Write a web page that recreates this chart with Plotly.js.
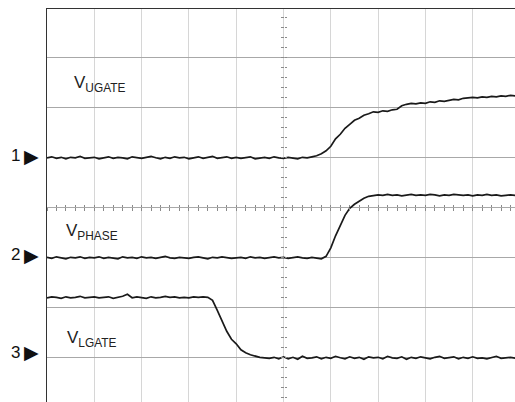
<!DOCTYPE html>
<html>
<head>
<meta charset="utf-8">
<script src="https://cdn.plot.ly/plotly-3.0.1.min.js"></script>
<style>html,body{margin:0;padding:0;background:#fff;}#plot{width:515px;height:402px;}</style>
</head>
<body>
<div id="plot"></div>
<script>
// time axis in horizontal divisions (screen centre = 0)
const time = [
 -5.0,-4.9,-4.8,-4.7,-4.6,-4.5,-4.4,-4.3,-4.2,-4.1,
 -4.0,-3.9,-3.8,-3.7,-3.6,-3.5,-3.4,-3.3,-3.2,-3.1,
 -3.0,-2.9,-2.8,-2.7,-2.6,-2.5,-2.4,-2.3,-2.2,-2.1,
 -2.0,-1.9,-1.8,-1.7,-1.6,-1.5,-1.4,-1.3,-1.2,-1.1,
 -1.0,-0.9,-0.8,-0.7,-0.6,-0.5,-0.4,-0.3,-0.2,-0.1,
 0.0,0.1,0.2,0.3,0.4,0.5,0.6,0.7,0.8,0.9,
 1.0,1.1,1.2,1.3,1.4,1.5,1.6,1.7,1.8,1.9,
 2.0,2.1,2.2,2.3,2.4,2.5,2.6,2.7,2.8,2.9,
 3.0,3.1,3.2,3.3,3.4,3.5,3.6,3.7,3.8,3.9,
 4.0,4.1,4.2,4.3,4.4,4.5,4.6,4.7,4.8,4.9
];
// channel levels in vertical divisions (screen centre = 0)
const vUgate = [
 0.99,1.01,0.98,1.00,0.97,1.00,0.99,1.02,0.98,0.99,
 1.00,0.97,0.99,1.01,0.98,1.00,0.99,0.97,1.01,0.99,
 0.98,1.00,1.02,0.99,0.97,1.00,0.98,1.01,0.99,1.00,
 0.97,0.99,1.01,0.98,1.00,1.02,0.98,0.99,1.01,0.98,
 1.00,0.98,0.99,1.01,0.97,0.99,1.00,0.98,1.01,0.99,
 0.98,1.00,0.99,0.97,1.00,0.99,1.01,1.03,1.07,1.13,
 1.22,1.37,1.46,1.58,1.66,1.74,1.78,1.84,1.87,1.91,
 1.90,1.93,1.92,1.95,1.96,2.03,2.06,2.08,2.07,2.09,
 2.08,2.11,2.10,2.13,2.12,2.14,2.16,2.15,2.18,2.19,
 2.20,2.19,2.21,2.20,2.22,2.21,2.23,2.22,2.24,2.23
];
const vPhase = [
 -1.00,-1.02,-0.99,-1.01,-1.03,-1.00,-1.01,-0.99,-1.02,-1.00,
 -1.01,-0.99,-1.02,-1.00,-1.01,-1.03,-0.99,-1.01,-1.00,-1.02,
 -0.99,-1.01,-1.00,-1.02,-1.00,-0.98,-1.01,-1.02,-1.00,-1.01,
 -1.02,-1.00,-0.99,-1.01,-1.03,-1.00,-1.01,-0.99,-1.00,-1.02,
 -1.01,-1.00,-1.02,-0.99,-1.01,-1.00,-1.02,-1.00,-0.99,-1.01,
 -1.00,-1.02,-1.01,-0.99,-1.01,-1.02,-1.00,-1.01,-1.03,-0.98,
 -0.81,-0.57,-0.35,-0.16,-0.02,0.06,0.12,0.18,0.22,0.24,
 0.25,0.24,0.26,0.24,0.25,0.23,0.25,0.26,0.24,0.25,
 0.24,0.26,0.25,0.23,0.25,0.24,0.26,0.25,0.24,0.25,
 0.23,0.25,0.24,0.26,0.24,0.25,0.23,0.24,0.25,0.24
];
const vLgate = [
 -1.81,-1.79,-1.80,-1.82,-1.79,-1.81,-1.80,-1.78,-1.81,-1.80,
 -1.79,-1.81,-1.80,-1.79,-1.82,-1.80,-1.78,-1.74,-1.81,-1.79,
 -1.80,-1.82,-1.79,-1.81,-1.80,-1.78,-1.80,-1.79,-1.81,-1.80,
 -1.81,-1.79,-1.80,-1.79,-1.80,-1.86,-2.06,-2.28,-2.48,-2.64,
 -2.73,-2.85,-2.91,-2.95,-2.98,-3.00,-3.01,-3.02,-3.00,-3.03,
 -2.99,-3.03,-3.00,-3.04,-2.98,-3.02,-3.01,-2.99,-3.03,-3.00,
 -3.02,-2.98,-3.01,-3.03,-2.99,-3.02,-3.00,-3.04,-2.99,-3.01,
 -3.00,-3.03,-2.98,-3.01,-3.02,-2.99,-3.04,-3.00,-3.02,-2.99,
 -3.01,-3.03,-3.00,-2.98,-3.02,-3.01,-2.99,-3.03,-3.00,-3.02,
 -2.99,-3.02,-3.01,-3.03,-3.00,-2.98,-3.02,-3.01,-3.00,-3.02
];
const channelNames = ['V<sub>UGATE</sub>', 'V<sub>PHASE</sub>', 'V<sub>LGATE</sub>'];
const channelMarkers = ['1', '2', '3'];
const markerLevels = [1.03, -0.95, -2.9];
const labelPos = [[-4.47, 2.47], [-4.64, -0.49], [-4.62, -2.64]];
const gridX = [-4,-3,-2,-1,0,1,2,3,4];
const gridY = [-3,-2,-1,0,1,2,3];

const xr = [-5.0, 4.894];
const yr = [-3.894, 3.966];
const traceColor = '#1a1a1a';
const labelFont = 'Liberation Sans, Arial, sans-serif';

const traces = [vUgate, vPhase, vLgate].map(v => ({
  x: time, y: v, type: 'scatter', mode: 'lines',
  line: {color: traceColor, width: 1.7}, hoverinfo: 'skip', showlegend: false
}));
// anchor traces so the centre-graticule tick axes get drawn
['2', '3'].forEach(k => traces.push({
  x: [0], y: [0], xaxis: 'x' + k, yaxis: 'y' + k, type: 'scatter', mode: 'markers',
  marker: {opacity: 0, size: 1}, hoverinfo: 'skip', showlegend: false
}));

const annotations = [];
channelNames.forEach((n, i) => {
  annotations.push({
    xref: 'x', yref: 'y', x: labelPos[i][0], y: labelPos[i][1],
    xanchor: 'left', yanchor: 'middle', showarrow: false, text: n,
    font: {family: labelFont, size: 17, color: '#222'}
  });
  annotations.push({
    xref: 'paper', yref: 'y', x: 0, y: markerLevels[i], xshift: -25,
    xanchor: 'right', yanchor: 'middle', showarrow: false,
    text: channelMarkers[i],
    font: {family: labelFont, size: 17, color: '#111'}
  });
  annotations.push({
    xref: 'paper', yref: 'y', x: 0, y: markerLevels[i], xshift: -6,
    xanchor: 'right', yanchor: 'middle', showarrow: false,
    text: '\u25B6',
    font: {family: 'DejaVu Sans, sans-serif', size: 19, color: '#111'}
  });
});

const posX0 = (0 - xr[0]) / (xr[1] - xr[0]);
const posY0 = (0 - yr[0]) / (yr[1] - yr[0]);
const tickAxisX = (t) => ({overlaying: 'x', anchor: 'free', position: posY0, range: xr,
  tick0: 0, dtick: 0.2, ticks: t, ticklen: 2.5, tickwidth: 1, tickcolor: '#8a8a8a',
  showticklabels: false, showgrid: false, zeroline: false, showline: false, fixedrange: true});
const tickAxisY = (t) => ({overlaying: 'y', anchor: 'free', position: posX0, range: yr,
  tick0: 0, dtick: 0.2, ticks: t, ticklen: 2.5, tickwidth: 1, tickcolor: '#8a8a8a',
  showticklabels: false, showgrid: false, zeroline: false, showline: false, fixedrange: true});

const layout = {
  width: 515, height: 402,
  margin: {l: 47, r: 0, t: 9, b: 0},
  paper_bgcolor: '#fff', plot_bgcolor: '#fff',
  showlegend: false,
  xaxis: {range: xr, side: 'top', tickmode: 'array', tickvals: gridX, showticklabels: false,
    ticks: '', showgrid: true, gridcolor: '#d6d6d6', gridwidth: 1, zeroline: false,
    showline: true, linecolor: '#333', linewidth: 1.5, fixedrange: true},
  yaxis: {range: yr, tickmode: 'array', tickvals: gridY, showticklabels: false,
    ticks: '', showgrid: true, gridcolor: '#a8a8a8', gridwidth: 1, zeroline: false,
    showline: true, linecolor: '#333', linewidth: 1.5, fixedrange: true},
  xaxis2: tickAxisX('outside'),
  xaxis3: tickAxisX('inside'),
  yaxis2: tickAxisY('outside'),
  yaxis3: tickAxisY('inside'),
  annotations: annotations
};

Plotly.newPlot('plot', traces, layout, {staticPlot: true, displayModeBar: false});
</script>
</body>
</html>
